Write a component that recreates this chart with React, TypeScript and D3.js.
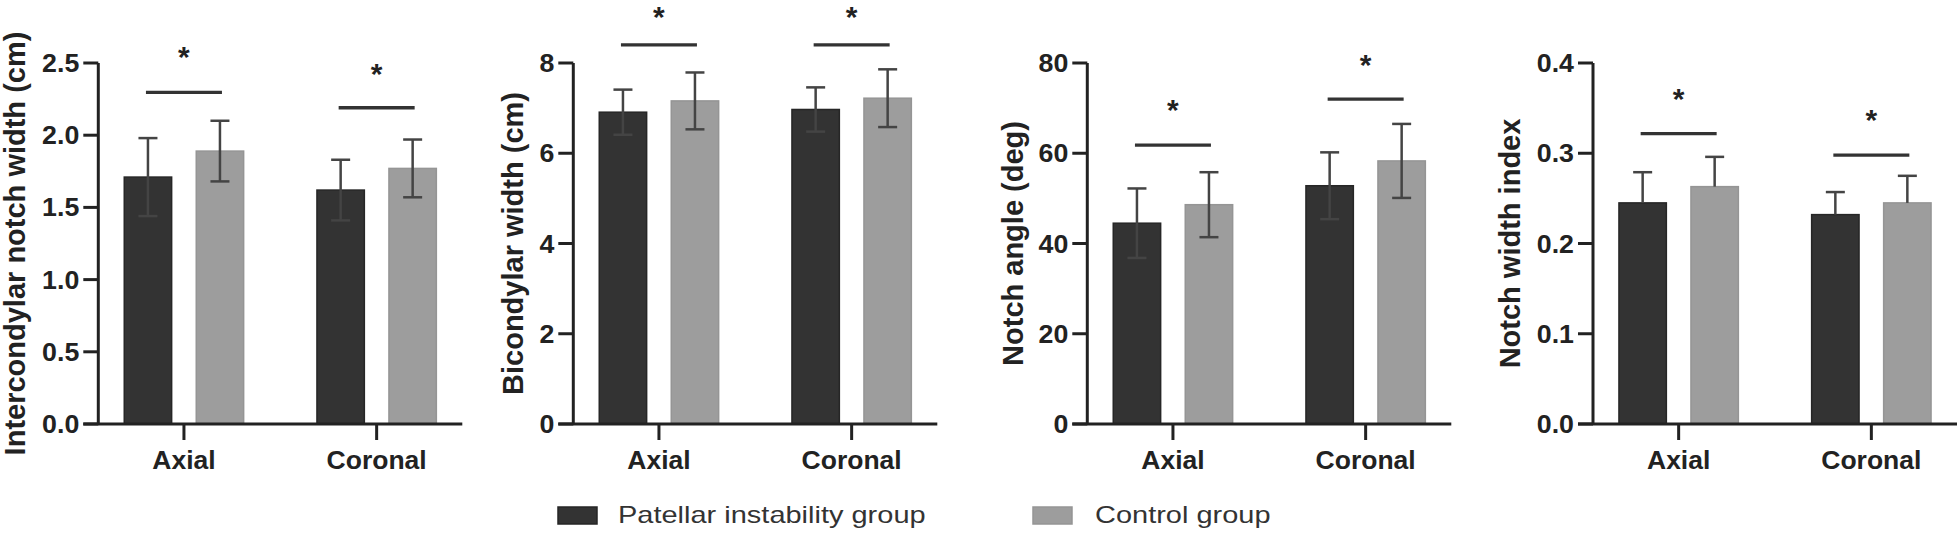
import React from 'react';
import * as d3 from 'd3';

// ---------- data ----------
const categories = ['Axial', 'Coronal'];
const groups = ['Patellar instability group', 'Control group'];
const groupColors = ['#333333', '#9d9d9d'];

const panelTitles = [
  'Intercondylar notch width (cm)',
  'Bicondylar width (cm)',
  'Notch angle (deg)',
  'Notch width index',
];
const yMax = [2.5, 8, 80, 0.4];
const yTicks = [
  [0, 0.5, 1, 1.5, 2, 2.5],
  [0, 2, 4, 6, 8],
  [0, 20, 40, 60, 80],
  [0, 0.1, 0.2, 0.3, 0.4],
];
const tickFormats = ['.1f', 'd', 'd', '.1f'];

// [panel][category]
const instabilityMean = [[1.71, 1.62], [6.91, 6.97], [44.5, 52.8], [0.245, 0.232]];
const instabilitySD = [[0.27, 0.21], [0.5, 0.49], [7.7, 7.4], [0.034, 0.025]];
const controlMean = [[1.89, 1.77], [7.16, 7.22], [48.6, 58.3], [0.263, 0.245]];
const controlSD = [[0.21, 0.2], [0.63, 0.64], [7.2, 8.2], [0.033, 0.03]];
const sigLine = [[2.297, 2.19], [8.4, 8.4], [61.8, 72.0], [0.3218, 0.298]];
const sigStar = [[2.593, 2.471], [9.17, 9.17], [71.1, 81.0], [0.3675, 0.3447]];
const errorBothSides = [true, true, true, false];

// ---------- layout ----------
const W = 1958;
const H = 540;
const axisX = [98.3, 573.3, 1087.3, 1593];
const yLabelX = [25, 523, 1022.5, 1519.5];
const plotTop = 63;
const plotBottom = 424;
const axisLen = 364;
const ink = '#222222';
const FONT = '"Liberation Sans", Arial, Helvetica, sans-serif';

function Panel({ p }: { p: number }) {
  const x0 = axisX[p];
  const y = d3.scaleLinear().domain([0, yMax[p]]).range([plotBottom, plotTop]);
  const xCat = d3.scalePoint<string>().domain(categories).range([x0, x0 + axisLen]).padding(0.4445);
  const xGrp = d3.scaleBand<string>().domain(groups).range([-59.7, 59.7]).paddingInner(0.3417).paddingOuter(0);
  const fmt = d3.format(tickFormats[p]);
  const means = [instabilityMean[p], controlMean[p]];
  const sds = [instabilitySD[p], controlSD[p]];
  const capHalf = 9.5;

  return (
    <g>
      {/* bars */}
      {categories.map((c, ci) =>
        groups.map((g, gi) => {
          const cx = (xCat(c) as number) + (xGrp(g) as number);
          const top = y(means[gi][ci]);
          return (
            <rect
              key={c + g}
              x={cx}
              y={top}
              width={xGrp.bandwidth()}
              height={plotBottom - top}
              fill={groupColors[gi]}
              stroke={gi === 0 ? '#262626' : '#959595'}
              strokeWidth={1.5}
            />
          );
        })
      )}
      {/* error bars */}
      {categories.map((c, ci) =>
        groups.map((g, gi) => {
          const mx = (xCat(c) as number) + (xGrp(g) as number) + xGrp.bandwidth() / 2;
          const m = means[gi][ci];
          const s = sds[gi][ci];
          const yHi = y(m + s);
          const yLo = errorBothSides[p] ? y(m - s) : y(m);
          return (
            <g key={'e' + c + g} stroke="#444444" strokeWidth={2.5} fill="none">
              <line x1={mx} x2={mx} y1={yHi} y2={yLo} />
              <line x1={mx - capHalf} x2={mx + capHalf} y1={yHi} y2={yHi} />
              {errorBothSides[p] && <line x1={mx - capHalf} x2={mx + capHalf} y1={yLo} y2={yLo} />}
            </g>
          );
        })
      )}
      {/* axes */}
      <line x1={x0} x2={x0} y1={y(yMax[p])} y2={plotBottom} stroke={ink} strokeWidth={3} />
      <line x1={x0 - 15} x2={x0 + axisLen} y1={plotBottom} y2={plotBottom} stroke={ink} strokeWidth={3} />
      {yTicks[p].map((t) => (
        <g key={'t' + t}>
          <line x1={x0 - 15} x2={x0} y1={y(t)} y2={y(t)} stroke={ink} strokeWidth={3} />
          <g transform={`translate(${x0 - 19},${y(t)}) scale(1.07,1)`}>
            <text
              x={0}
              y={0}
              dy="0.36em"
              textAnchor="end"
              fontFamily={FONT}
              fontWeight="bold"
              fontSize={25}
              fill={ink}
            >
              {fmt(t)}
            </text>
          </g>
        </g>
      ))}
      {categories.map((c) => (
        <g key={'c' + c}>
          <line x1={xCat(c)} x2={xCat(c)} y1={plotBottom} y2={plotBottom + 16} stroke={ink} strokeWidth={3} />
          <g transform={`translate(${xCat(c)},469) scale(1.06,1)`}>
            <text x={0} y={0} textAnchor="middle" fontFamily={FONT} fontWeight="bold" fontSize={25} fill={ink}>
              {c}
            </text>
          </g>
        </g>
      ))}
      {/* y label */}
      <g transform={`translate(${yLabelX[p]},${(plotTop + plotBottom) / 2}) rotate(-90)`}>
        <text x={0} y={0} textAnchor="middle" fontFamily={FONT} fontWeight="bold" fontSize={29} fill={ink}>
          {panelTitles[p]}
        </text>
      </g>
      {/* significance */}
      {categories.map((c, ci) => {
        const cx = xCat(c) as number;
        return (
          <g key={'s' + c}>
            <line x1={cx - 38} x2={cx + 38} y1={y(sigLine[p][ci])} y2={y(sigLine[p][ci])} stroke="#333333" strokeWidth={3.3} />
            <text
              x={cx}
              y={y(sigStar[p][ci]) + 17}
              textAnchor="middle"
              fontFamily={FONT}
              fontWeight="bold"
              fontSize={30}
              fill={ink}
            >
              *
            </text>
          </g>
        );
      })}
    </g>
  );
}

const legendX = [558, 1033];
const legendTextX = [618, 1095];

export default function App() {
  return (
    <svg width={W} height={H} style={{ position: 'absolute', left: 0, top: 0, background: '#fff' }}>
      <rect x={0} y={0} width={W} height={H} fill="#ffffff" />
      {[0, 1, 2, 3].map((p) => (
        <Panel key={p} p={p} />
      ))}
      {groups.map((g, gi) => (
        <g key={'l' + g}>
          <rect x={legendX[gi]} y={507} width={39} height={17} fill={groupColors[gi]} stroke={gi === 0 ? '#262626' : '#959595'} strokeWidth={1.5} />
          <g transform={`translate(${legendTextX[gi]},523) scale(1.26,1)`}>
            <text x={0} y={0} fontFamily={FONT} fontSize={23} fill="#333333">
              {g}
            </text>
          </g>
        </g>
      ))}
    </svg>
  );
}
